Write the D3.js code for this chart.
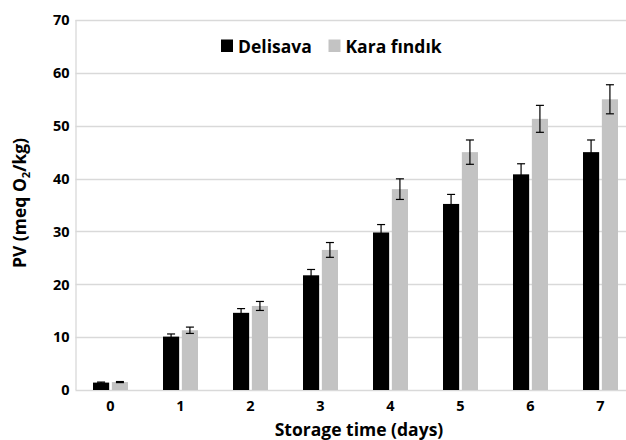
<!DOCTYPE html>
<html>
<head>
<meta charset="utf-8">
<script src="https://cdn.jsdelivr.net/npm/d3@7"></script>
<style>
  body { margin: 0; background: #fff; }
  text { font-family: "Open Sans", Lato, sans-serif; font-weight: bold; fill: #000; }
</style>
</head>
<body>
<div id="plot"></div>
<script>
// data
var days = ["0", "1", "2", "3", "4", "5", "6", "7"];
var seriesNames = ["Delisava", "Kara fındık"];
var delisava = [1.4, 10.1, 14.6, 21.7, 29.8, 35.2, 40.8, 45.0];
var delisavaErr = [0.1, 0.5, 0.8, 1.1, 1.5, 1.8, 2.0, 2.3];
var karaFindik = [1.5, 11.3, 15.9, 26.5, 38.0, 45.0, 51.3, 55.0];
var karaFindikErr = [0.1, 0.6, 0.85, 1.4, 1.95, 2.3, 2.55, 2.75];
var yTicks = [0, 10, 20, 30, 40, 50, 60, 70];
var colors = ["#000000", "#c3c3c3"];

var W = 626, H = 440;
var margin = { top: 20, left: 75.5 },
    plotW = 560, plotH = 370;

var svg = d3.select("#plot").append("svg")
    .attr("width", W)
    .attr("height", H);

var g = svg.append("g")
    .attr("transform", "translate(" + margin.left + "," + margin.top + ")");

var x = d3.scaleBand().domain(days).range([0, plotW]).paddingInner(0).paddingOuter(0);
var x1 = d3.scaleBand().domain([0, 1]).range([x.bandwidth() / 2 - 17.5, x.bandwidth() / 2 + 17.5]).paddingInner(5 / 35);
var y = d3.scaleLinear().domain([0, 70]).range([plotH, 0]);

// gridlines
g.append("g").selectAll("line")
    .data(yTicks)
    .enter().append("line")
    .attr("x1", 0).attr("x2", plotW)
    .attr("y1", function (d) { return Math.round(y(d)) + 0.5; })
    .attr("y2", function (d) { return Math.round(y(d)) + 0.5; })
    .attr("stroke", "#d9d9d9")
    .attr("stroke-width", 1.3);

g.append("line")
    .attr("x1", 0.5).attr("x2", 0.5)
    .attr("y1", 0).attr("y2", plotH)
    .attr("stroke", "#d9d9d9")
    .attr("stroke-width", 1.3);

// y tick labels
g.append("g").selectAll("text")
    .data(yTicks)
    .enter().append("text")
    .attr("x", -6)
    .attr("y", function (d) { return y(d); })
    .attr("dy", "0.36em")
    .attr("text-anchor", "end")
    .style("font-size", "14.5px")
    .text(function (d) { return d; });

// x tick labels
g.append("g").selectAll("text")
    .data(days)
    .enter().append("text")
    .attr("x", function (d) { return x(d) + x.bandwidth() / 2; })
    .attr("y", plotH + 20.5)
    .attr("text-anchor", "middle")
    .style("font-size", "14.5px")
    .text(function (d) { return d; });

var series = [
  { vals: delisava, err: delisavaErr },
  { vals: karaFindik, err: karaFindikErr }
];

series.forEach(function (s, si) {
  var grp = g.append("g");
  grp.selectAll("rect")
      .data(days)
      .enter().append("rect")
      .attr("x", function (d) { return x(d) + x1(si); })
      .attr("width", x1.bandwidth())
      .attr("y", function (d, i) { return y(s.vals[i]); })
      .attr("height", function (d, i) { return plotH - y(s.vals[i]); })
      .attr("fill", colors[si]);

  // error bars
  var eb = grp.selectAll("g.err")
      .data(days)
      .enter().append("g")
      .attr("class", "err")
      .attr("transform", function (d) { return "translate(" + (x(d) + x1(si) + x1.bandwidth() / 2) + ",0)"; });
  eb.append("line")
      .attr("y1", function (d, i) { return y(s.vals[i] + s.err[i]); })
      .attr("y2", function (d, i) { return y(s.vals[i] - s.err[i]); })
      .attr("stroke", "#000").attr("stroke-width", 1.2);
  eb.append("line")
      .attr("x1", -4).attr("x2", 4)
      .attr("y1", function (d, i) { return y(s.vals[i] + s.err[i]); })
      .attr("y2", function (d, i) { return y(s.vals[i] + s.err[i]); })
      .attr("stroke", "#000").attr("stroke-width", 1.2);
  eb.append("line")
      .attr("x1", -4).attr("x2", 4)
      .attr("y1", function (d, i) { return y(s.vals[i] - s.err[i]); })
      .attr("y2", function (d, i) { return y(s.vals[i] - s.err[i]); })
      .attr("stroke", "#000").attr("stroke-width", 1.2);
});

// legend
var legend = svg.append("g");
var legX = [221, 328.5];
seriesNames.forEach(function (n, i) {
  legend.append("rect")
      .attr("x", legX[i]).attr("y", 39.5)
      .attr("width", 12).attr("height", 12.5)
      .attr("fill", colors[i]);
  legend.append("text")
      .attr("x", legX[i] + 17)
      .attr("y", 52.5)
      .style("font-size", "17.5px")
      .text(n);
});

// axis titles
svg.append("text")
    .attr("x", 359)
    .attr("y", 436)
    .attr("text-anchor", "middle")
    .style("font-size", "17.5px")
    .text("Storage time (days)");

var yl = svg.append("text")
    .attr("transform", "translate(26,203) rotate(-90)")
    .attr("text-anchor", "middle")
    .style("font-size", "17.5px");
yl.append("tspan").text("PV (meq O");
yl.append("tspan").attr("dy", 4).style("font-size", "11px").text("2");
yl.append("tspan").attr("dy", -4).text("/kg)");
</script>
</body>
</html>
